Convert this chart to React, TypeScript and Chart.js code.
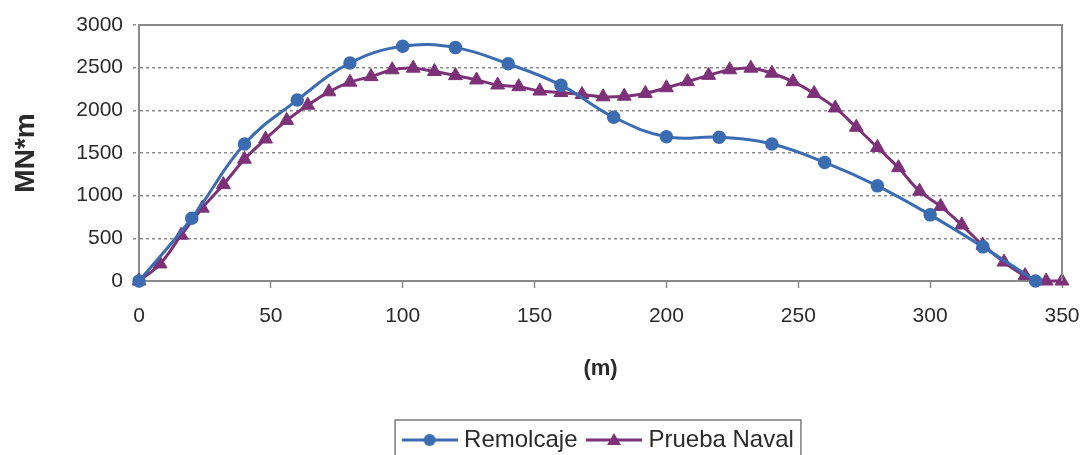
import React, { useEffect, useRef } from "react";
import { Chart, registerables } from "chart.js";

Chart.register(...registerables);

// ---- data ----
const remolcajeX = [0, 20, 40, 60, 80, 100, 120, 140, 160, 180, 200, 220, 240, 260, 280, 300, 320, 340];
const remolcajeY = [0, 735, 1605, 2120, 2555, 2750, 2735, 2545, 2295, 1920, 1690, 1685, 1605, 1390, 1115, 775, 400, 0];

const pruebaX = [
  0, 8, 16, 24, 32, 40, 48, 56, 64, 72, 80, 88, 96, 104, 112, 120, 128, 136, 144, 152, 160, 168, 176,
  184, 192, 200, 208, 216, 224, 232, 240, 248, 256, 264, 272, 280, 288, 296, 304, 312, 320, 328, 336, 344, 350,
];
const pruebaY = [
  0, 200, 537, 854, 1130, 1427, 1664, 1882, 2060, 2217, 2330, 2395, 2475, 2494, 2455, 2407, 2356, 2297, 2277,
  2226, 2209, 2186, 2158, 2166, 2198, 2265, 2336, 2410, 2475, 2494, 2435, 2336, 2198, 2028, 1802, 1565, 1328,
  1052, 874, 656, 419, 222, 63, 0, 0,
];

const seriesNames = ["Remolcaje", "Prueba Naval"];
const xTickLabels = [0, 50, 100, 150, 200, 250, 300, 350];
const yTickLabels = [0, 500, 1000, 1500, 2000, 2500, 3000];
const xTitle = "(m)";
const yTitle = "MN*m";

const BLUE = "#3b6cb2";
const PURPLE = "#7d3178";
const AXIS = "#8a8a8a";
const TEXT = "#2b2b2b";
const FONT = "'Liberation Sans', Arial, sans-serif";

function makeSample(color: string, style: "circle" | "triangle"): HTMLCanvasElement {
  const c = document.createElement("canvas");
  c.width = 56;
  c.height = 22;
  const ctx = c.getContext("2d")!;
  ctx.strokeStyle = color;
  ctx.fillStyle = color;
  ctx.lineWidth = 3;
  ctx.beginPath();
  ctx.moveTo(0, 11);
  ctx.lineTo(56, 11);
  ctx.stroke();
  ctx.beginPath();
  if (style === "circle") {
    ctx.arc(28, 11, 6, 0, Math.PI * 2);
  } else {
    const r = 8;
    for (let k = 0; k < 3; k++) {
      const a = (k * 2 * Math.PI) / 3;
      const px = 28 + Math.sin(a) * r;
      const py = 12 - Math.cos(a) * r;
      if (k === 0) ctx.moveTo(px, py);
      else ctx.lineTo(px, py);
    }
    ctx.closePath();
  }
  ctx.fill();
  return c;
}

const framePlugin = {
  id: "frameAndLegendBox",
  afterDraw(chart: any) {
    const { ctx, chartArea: a } = chart;
    ctx.save();
    ctx.strokeStyle = AXIS;
    ctx.lineWidth = 2;
    ctx.beginPath();
    ctx.moveTo(a.left, a.top);
    ctx.lineTo(a.right, a.top);
    ctx.lineTo(a.right, a.bottom);
    ctx.stroke();
    const hb = chart.legend && chart.legend.legendHitBoxes;
    if (hb && hb.length) {
      const first = hb[0];
      const last = hb[hb.length - 1];
      const left = first.left - 12;
      const right = last.left + last.width + 7;
      const top = first.top - 8;
      const bottom = first.top + first.height + 12;
      ctx.strokeStyle = "#7a7a7a";
      ctx.lineWidth = 1.5;
      ctx.strokeRect(left, top, right - left, bottom - top);
    }
    ctx.restore();
  },
};

export default function App() {
  const ref = useRef<HTMLCanvasElement | null>(null);

  useEffect(() => {
    document.body.style.margin = "0";
    if (!ref.current) return;
    const samples = [makeSample(BLUE, "circle"), makeSample(PURPLE, "triangle")];
    const chart = new Chart(ref.current, {
      type: "line",
      data: {
        datasets: [
          {
            label: seriesNames[0],
            data: remolcajeX.map((x, i) => ({ x, y: remolcajeY[i] })),
            borderColor: BLUE,
            backgroundColor: BLUE,
            borderWidth: 3,
            pointStyle: "circle",
            pointRadius: 6,
            pointBorderWidth: 1.5,
            pointBackgroundColor: BLUE,
            pointBorderColor: BLUE,
            tension: 0.4,
            clip: false,
          },
          {
            label: seriesNames[1],
            data: pruebaX.map((x, i) => ({ x, y: pruebaY[i] })),
            borderColor: PURPLE,
            backgroundColor: PURPLE,
            borderWidth: 3,
            pointStyle: "triangle",
            pointRadius: 8,
            pointBorderWidth: 1,
            pointBackgroundColor: PURPLE,
            pointBorderColor: PURPLE,
            tension: 0.4,
            clip: false,
          },
        ],
      },
      options: {
        responsive: false,
        animation: false,
        devicePixelRatio: 1,
        layout: { padding: { top: 25, right: 23, bottom: 8, left: 0 } },
        plugins: {
          tooltip: { enabled: false },
          legend: {
            position: "bottom",
            fullSize: false,
            labels: {
              usePointStyle: true,
              pointStyleWidth: 45,
              padding: 14,
              color: TEXT,
              font: { family: FONT, size: 24 },
              generateLabels: () =>
                seriesNames.map((name, i) => ({
                  text: name,
                  pointStyle: samples[i],
                  fillStyle: i === 0 ? BLUE : PURPLE,
                  strokeStyle: i === 0 ? BLUE : PURPLE,
                  lineWidth: 0,
                  hidden: false,
                  datasetIndex: i,
                  fontColor: TEXT,
                })),
            },
          },
        },
        scales: {
          x: {
            type: "linear",
            position: "bottom",
            min: xTickLabels[0],
            max: xTickLabels[xTickLabels.length - 1],
            afterBuildTicks: (s: any) => {
              s.ticks = xTickLabels.map((v) => ({ value: v }));
            },
            afterFit: (s: any) => {
              s.height = 133;
              s.paddingLeft = 0;
              s.paddingRight = 0;
            },
            ticks: {
              color: TEXT,
              font: { family: FONT, size: 21 },
              padding: 16,
              maxRotation: 0,
              callback: (v: any) => String(v),
            },
            grid: {
              drawOnChartArea: false,
              drawTicks: true,
              tickLength: 7,
              tickColor: AXIS,
              tickWidth: 1.5,
            },
            border: { display: true, color: AXIS, width: 2 },
            title: {
              display: true,
              text: xTitle,
              color: TEXT,
              font: { family: FONT, size: 22, weight: "bold" },
              padding: { top: 0, bottom: 32 },
            },
          },
          y: {
            type: "linear",
            min: yTickLabels[0],
            max: yTickLabels[yTickLabels.length - 1],
            afterBuildTicks: (s: any) => {
              s.ticks = yTickLabels.map((v) => ({ value: v }));
            },
            afterFit: (s: any) => {
              s.width = 139;
            },
            ticks: {
              color: TEXT,
              font: { family: FONT, size: 21 },
              padding: 10,
              callback: (v: any) => String(v),
            },
            grid: {
              color: (c: any) =>
                c.tick && (c.tick.value === 0 || c.tick.value === 3000) ? "rgba(0,0,0,0)" : "#8c8c8c",
              lineWidth: 1.5,
              drawTicks: true,
              tickLength: 6,
              tickColor: "#8c8c8c",
              tickWidth: 1.5,
              tickBorderDash: [3, 3],
            },
            border: { display: true, color: AXIS, width: 2, dash: [3, 3] },
            title: {
              display: true,
              text: yTitle,
              color: TEXT,
              font: { family: FONT, size: 28, weight: "bold" },
              padding: { top: 9, bottom: 0 },
            },
          },
        },
      },
      plugins: [framePlugin],
    } as any);
    return () => chart.destroy();
  }, []);

  return (
    <div style={{ width: 1085, height: 455, overflow: "hidden", background: "#ffffff" }}>
      <canvas ref={ref} width={1085} height={470} style={{ display: "block", width: 1085, height: 470 }} />
    </div>
  );
}
